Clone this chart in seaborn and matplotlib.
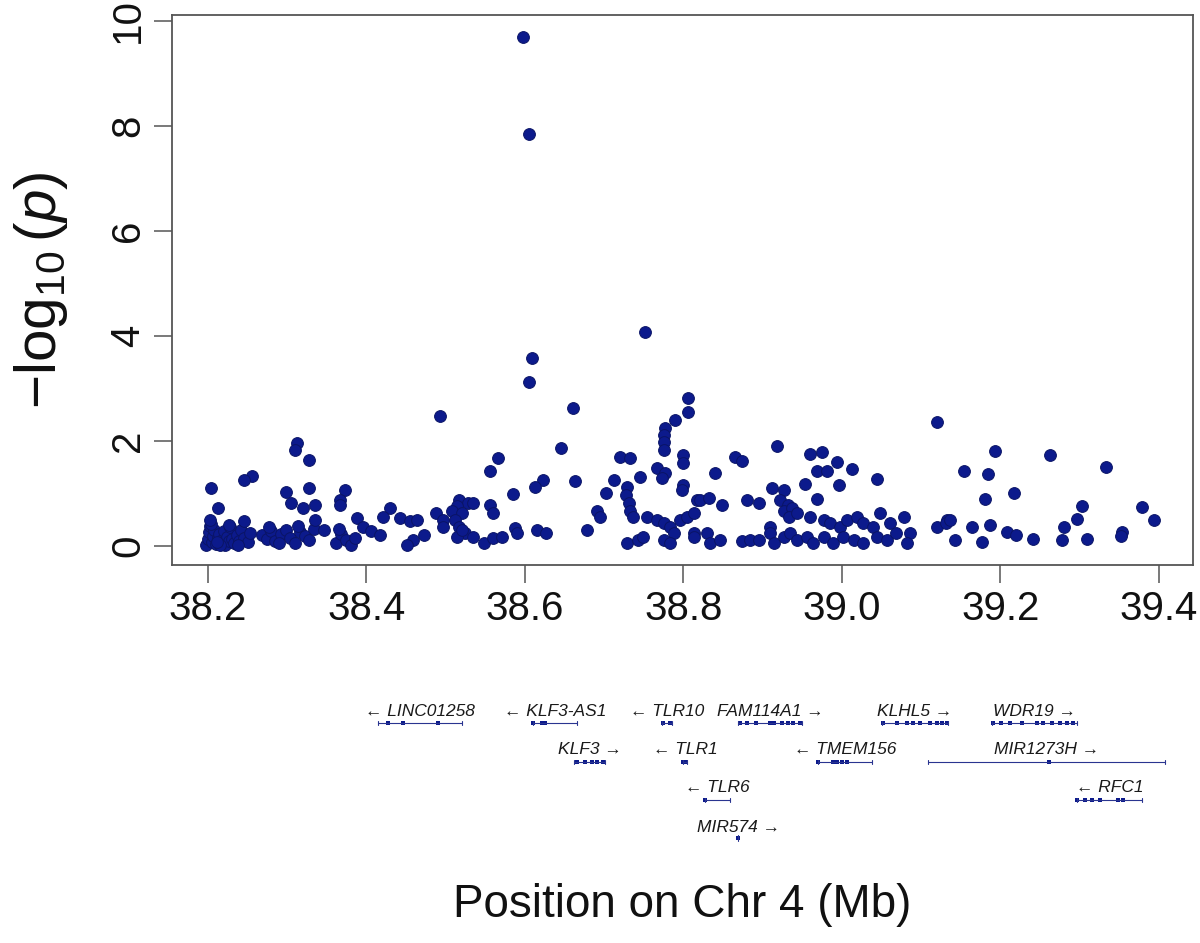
import matplotlib
matplotlib.use("Agg")
import matplotlib.pyplot as plt
from matplotlib import font_manager
import seaborn as sns
import pandas as pd

# ----------------------
# Association results (position in Mb, -log10 p)
# ----------------------
top_pos = [38.597, 38.605, 38.609, 38.605, 38.751, 38.493, 38.661, 39.120]
top_logp = [9.70, 7.85, 3.58, 3.12, 4.07, 2.46, 2.62, 2.36]

left_pos = [38.198, 38.200, 38.201, 38.203, 38.205, 38.206, 38.208, 38.210, 38.212, 38.214,
            38.216, 38.218, 38.220, 38.222, 38.224, 38.226, 38.228, 38.230, 38.233, 38.236,
            38.239, 38.242, 38.246, 38.250, 38.253, 38.204, 38.215, 38.227, 38.238, 38.211,
            38.268, 38.274, 38.280, 38.285, 38.292, 38.298, 38.304, 38.310, 38.316, 38.322,
            38.328, 38.334, 38.277, 38.289, 38.313, 38.362, 38.368, 38.374, 38.380, 38.386,
            38.365,
            38.312, 38.310, 38.328, 38.255, 38.246, 38.204, 38.299, 38.328, 38.373, 38.366,
            38.213, 38.305, 38.320, 38.335, 38.366, 38.202, 38.245, 38.335, 38.388, 38.430,
            38.421, 38.442, 38.455, 38.464, 38.396, 38.406, 38.417, 38.347, 38.488, 38.497,
            38.472, 38.459, 38.451]
left_logp = [0.02, 0.12, 0.25, 0.38, 0.06, 0.18, 0.30, 0.03, 0.14, 0.22,
             0.05, 0.10, 0.28, 0.02, 0.16, 0.08, 0.35, 0.12, 0.04, 0.20,
             0.09, 0.30, 0.15, 0.06, 0.24, 0.42, 0.01, 0.40, 0.02, 0.07,
             0.20, 0.12, 0.28, 0.08, 0.22, 0.30, 0.15, 0.05, 0.25, 0.18,
             0.10, 0.32, 0.35, 0.04, 0.38, 0.05, 0.22, 0.10, 0.02, 0.15,
             0.32,
             1.95, 1.82, 1.63, 1.32, 1.25, 1.09, 1.03, 1.09, 1.06, 0.87,
             0.71, 0.81, 0.71, 0.78, 0.78, 0.49, 0.46, 0.49, 0.52, 0.71,
             0.55, 0.52, 0.46, 0.49, 0.36, 0.27, 0.20, 0.30, 0.62, 0.49,
             0.20, 0.11, 0.01]

mid_pos = [38.806, 38.806, 38.790, 38.777, 38.775, 38.775, 38.775, 38.800, 38.800, 38.646,
           38.566, 38.556, 38.720, 38.733, 38.745, 38.767, 38.777, 38.773, 38.712, 38.623,
           38.613, 38.663, 38.585, 38.703, 38.800, 38.798, 38.729, 38.727, 38.731, 38.733,
           38.737, 38.817, 38.517, 38.528, 38.534, 38.514, 38.508, 38.520, 38.512, 38.517,
           38.525, 38.514, 38.496, 38.556, 38.560, 38.587, 38.590, 38.548, 38.560, 38.571,
           38.615, 38.627, 38.678, 38.691, 38.695, 38.729, 38.743, 38.749, 38.754, 38.767,
           38.775, 38.783, 38.788, 38.796, 38.804, 38.813, 38.775, 38.783, 38.813, 38.520,
           38.534]
mid_logp = [2.81, 2.55, 2.39, 2.24, 2.11, 1.98, 1.82, 1.73, 1.57, 1.86,
            1.66, 1.43, 1.68, 1.66, 1.31, 1.47, 1.38, 1.28, 1.25, 1.25,
            1.12, 1.23, 0.98, 1.00, 1.16, 1.06, 1.12, 0.97, 0.81, 0.65,
            0.55, 0.87, 0.87, 0.81, 0.81, 0.75, 0.65, 0.62, 0.49, 0.36,
            0.24, 0.17, 0.36, 0.78, 0.62, 0.33, 0.24, 0.05, 0.14, 0.17,
            0.30, 0.24, 0.30, 0.65, 0.55, 0.05, 0.11, 0.17, 0.55, 0.49,
            0.43, 0.36, 0.24, 0.49, 0.55, 0.62, 0.11, 0.05, 0.24, 0.30,
            0.17]

right_pos = [38.918, 38.865, 38.874, 38.960, 38.975, 38.994, 39.013, 38.969, 38.981, 38.840,
             39.045, 38.954, 38.997, 38.912, 38.927, 38.821, 38.832, 38.849, 38.880, 38.895,
             38.969, 38.922, 38.932, 38.927, 38.937, 38.934, 38.944, 38.960, 38.977, 38.985,
             38.998, 39.006, 39.019, 39.027, 39.040, 39.048, 39.061, 39.078, 39.086, 38.910,
             38.910, 38.813, 38.830, 38.834, 38.846, 38.874, 38.884, 38.895, 38.914, 38.927,
             38.935, 38.943, 38.956, 38.964, 38.977, 38.989, 39.002, 39.015, 39.027, 39.044,
             39.057, 39.069, 39.082, 39.133,
             39.193, 39.263, 39.334, 39.154, 39.185, 39.217, 39.181, 39.303, 39.379, 39.297,
             39.394, 39.120, 39.131, 39.137, 39.164, 39.187, 39.208, 39.220, 39.280, 39.278,
             39.143, 39.177, 39.242, 39.310, 39.354, 39.352]
right_logp = [1.90, 1.68, 1.62, 1.75, 1.79, 1.60, 1.46, 1.43, 1.43, 1.38,
              1.26, 1.17, 1.16, 1.09, 1.06, 0.86, 0.90, 0.78, 0.86, 0.81,
              0.88, 0.86, 0.78, 0.65, 0.72, 0.55, 0.62, 0.55, 0.49, 0.43,
              0.36, 0.49, 0.55, 0.43, 0.36, 0.62, 0.43, 0.55, 0.24, 0.36,
              0.24, 0.17, 0.24, 0.05, 0.11, 0.08, 0.11, 0.10, 0.05, 0.17,
              0.24, 0.11, 0.17, 0.05, 0.17, 0.05, 0.17, 0.11, 0.05, 0.17,
              0.11, 0.24, 0.05, 0.49,
              1.80, 1.73, 1.50, 1.43, 1.37, 1.01, 0.88, 0.76, 0.73, 0.50,
              0.49, 0.36, 0.43, 0.48, 0.35, 0.40, 0.25, 0.20, 0.35, 0.10,
              0.10, 0.06, 0.12, 0.12, 0.25, 0.18]

# ----------------------
# Genes in the region
# ----------------------
gene_names = ["LINC01258", "KLF3-AS1", "TLR10", "FAM114A1", "KLHL5", "WDR19",
              "KLF3", "TLR1", "TMEM156", "MIR1273H", "TLR6", "RFC1", "MIR574"]
gene_start = [38.414, 38.610, 38.773, 38.869, 39.051, 39.190,
              38.662, 38.799, 38.970, 39.109, 38.827, 39.297, 38.869]
gene_end = [38.520, 38.666, 38.786, 38.950, 39.134, 39.297,
            38.701, 38.805, 39.038, 39.408, 38.859, 39.379, 38.870]
gene_strand = [-1, -1, -1, 1, 1, 1, 1, -1, -1, 1, -1, -1, 1]
gene_row = [0, 0, 0, 0, 0, 0, 1, 1, 1, 1, 2, 2, 3]
gene_exons = [
    [38.427, 38.446, 38.490],
    [38.610, 38.621, 38.625],
    [38.774, 38.783],
    [38.871, 38.881, 38.892, 38.909, 38.915, 38.924, 38.932, 38.939, 38.947],
    [39.052, 39.070, 39.082, 39.090, 39.099, 39.111, 39.120, 39.127, 39.133],
    [39.191, 39.201, 39.212, 39.228, 39.247, 39.254, 39.266, 39.276, 39.284, 39.292],
    [38.666, 38.676, 38.685, 38.691, 38.698],
    [38.800, 38.803],
    [38.970, 38.989, 38.994, 39.000, 39.007],
    [39.262],
    [38.827],
    [39.297, 39.307, 39.316, 39.326, 39.349, 39.355],
    [38.869],
]

# ----------------------
# Build table
# ----------------------
df = pd.DataFrame({
    "pos": top_pos + left_pos + mid_pos + right_pos,
    "logp": top_logp + left_logp + mid_logp + right_logp,
})

sns.set_theme(style="white")
installed = {f.name for f in font_manager.fontManager.ttflist}
narrow = "Liberation Sans Narrow" if "Liberation Sans Narrow" in installed else "Liberation Sans"
plt.rcParams["font.family"] = ["Liberation Sans", "DejaVu Sans"]
plt.rcParams["mathtext.fontset"] = "custom"
plt.rcParams["mathtext.rm"] = "Liberation Sans"
plt.rcParams["mathtext.it"] = "Liberation Sans:italic"

W, H = 1200, 943
fig = plt.figure(figsize=(W / 100, H / 100), dpi=100)

x_lo, x_hi = 38.1545, 39.4434
ax = fig.add_axes([172 / W, 1 - 565 / H, (1193 - 172) / W, (565 - 15) / H])
sns.scatterplot(data=df, x="pos", y="logp", ax=ax, color="#0c1a8c",
                edgecolor="#0a1466", linewidth=0.7, s=72, legend=False)
ax.set_xlim(x_lo, x_hi)
ax.set_ylim(-0.37, 10.11)
ax.set_xticks([38.2, 38.4, 38.6, 38.8, 39.0, 39.2, 39.4])
ax.set_xticklabels(["38.2", "38.4", "38.6", "38.8", "39.0", "39.2", "39.4"])
ax.set_yticks([0, 2, 4, 6, 8, 10])
ax.set_xlabel("")
ax.set_ylabel("")
for s in ax.spines.values():
    s.set_color("#555555")
    s.set_linewidth(1.3)
ax.tick_params(axis="both", which="major", direction="out", length=13, width=1.1,
               color="#555555", labelsize=29, pad=5, bottom=True, left=True)
for lab in ax.get_xticklabels() + ax.get_yticklabels():
    lab.set_family([narrow, "DejaVu Sans"])
    lab.set_color("#111111")
for lab in ax.get_yticklabels():
    lab.set_rotation(90)
    lab.set_va("center")

fig.text(41 / W, 1 - 290 / H, r"$-\log_{10}(p)$", rotation=90, fontsize=42,
         ha="center", va="center", color="#111111")
fig.text((172 + 1193) / 2 / W, 1 - 905 / H, "Position on Chr 4 (Mb)",
         fontsize=33, ha="center", va="center", color="#111111")

# ----------------------
# Gene track
# ----------------------
gx = fig.add_axes([172 / W, 1 - 850 / H, (1193 - 172) / W, 160 / H])
gx.set_xlim(x_lo, x_hi)
gx.set_ylim(850, 690)
gx.axis("off")

row_text_y = [712, 750, 788, 827]
row_line_y = [723, 762, 800, 838]
gene_color = "#2a3590"

fig.canvas.draw()
renderer = fig.canvas.get_renderer()
for name, st, en, strand, row, exons in zip(gene_names, gene_start, gene_end,
                                             gene_strand, gene_row, gene_exons):
    ly = row_line_y[row]
    if en - st > 0.002:
        gx.plot([st, en], [ly, ly], color=gene_color, lw=0.8, solid_capstyle="butt")
        gx.plot([st, st], [ly - 2, ly + 2], color=gene_color, lw=0.8)
        gx.plot([en, en], [ly - 2, ly + 2], color=gene_color, lw=0.8)
    else:
        gx.plot([st, st], [ly - 3, ly + 3], color=gene_color, lw=0.8)
    gx.scatter(exons, [ly] * len(exons), s=10, color="#0c1a8c", marker="s", linewidths=0)
    label = f"\u2190 {name}" if strand < 0 else f"{name} \u2192"
    t = gx.text((st + en) / 2, row_text_y[row], label, fontsize=12.5, style="italic",
                ha="center", va="center", color="#1a1a1a",
                family=["Liberation Sans", "DejaVu Sans"])
    bb = t.get_window_extent(renderer=renderer)
    right_px = gx.transData.transform((39.41, 0))[0]
    if bb.x1 > right_px:
        shift = gx.transData.inverted().transform((bb.x1, 0))[0] - 39.41
        t.set_x((st + en) / 2 - shift)

fig.savefig("out.png", dpi=100, facecolor="white")
